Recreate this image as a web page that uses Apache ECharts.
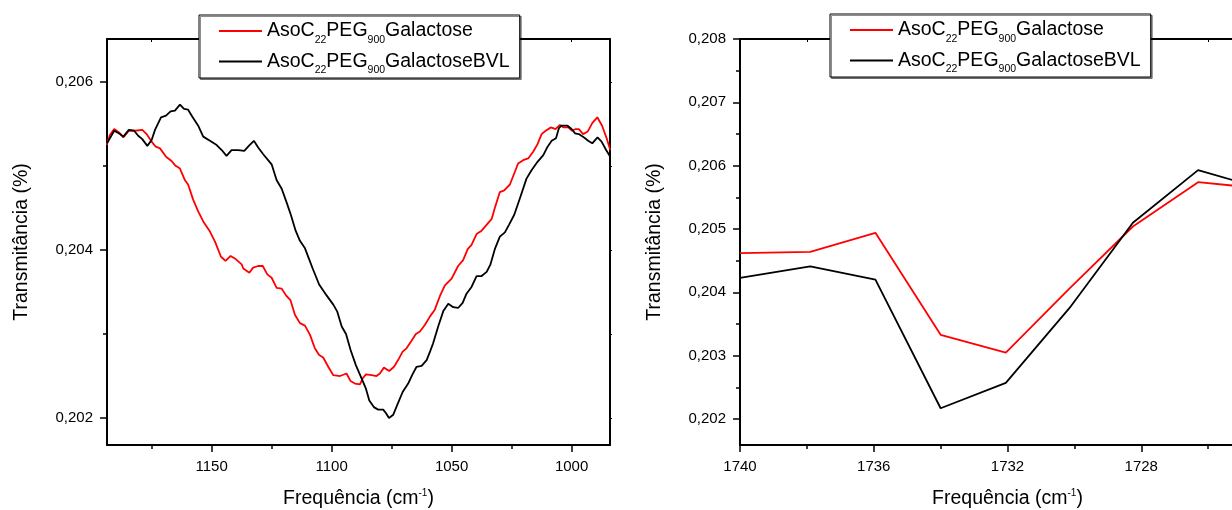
<!DOCTYPE html>
<html>
<head>
<meta charset="utf-8">
<script src="https://cdn.jsdelivr.net/npm/echarts@6/dist/echarts.min.js"></script>
<style>
  html, body { margin: 0; padding: 0; background: #fff; }
  #chart { width: 1232px; height: 510px; }
</style>
</head>
<body>
<div id="chart"></div>
<script>
// Sample names
const nameA = 'AsoC22PEG900Galactose';
const nameB = 'AsoC22PEG900GalactoseBVL';

// Panel 1 (1194–984 cm-1): wavenumber / transmittance pairs
const wnA1 = [1193.75, 1192.4, 1190.6, 1188.6, 1186.8, 1184.5, 1182.0, 1178.9, 1177.1, 1175.0,
  1173.3, 1171.5, 1169.0, 1166.7, 1165.3, 1163.2, 1161.1, 1159.8, 1157.7, 1155.6,
  1153.5, 1150.7, 1148.6, 1146.1, 1144.2, 1142.1, 1140.3, 1137.5, 1136.8, 1134.3,
  1132.7, 1130.6, 1128.7, 1126.8, 1125.0, 1122.9, 1120.8, 1119.0, 1117.1, 1115.3,
  1113.2, 1111.1, 1109.0, 1107.0, 1105.2, 1103.5, 1101.4, 1099.3, 1096.5, 1093.8,
  1092.1, 1090.3, 1088.2, 1087.1, 1085.7, 1083.3, 1081.3, 1079.9, 1078.2, 1076.0,
  1074.0, 1072.3, 1070.4, 1068.8, 1066.7, 1064.9, 1063.2, 1061.1, 1059.0, 1057.0,
  1054.9, 1052.8, 1050.0, 1047.3, 1045.2, 1043.3, 1041.7, 1039.6, 1037.5, 1033.3,
  1032.0, 1029.9, 1028.1, 1025.7, 1022.3, 1020.2, 1018.1, 1016.0, 1014.2, 1012.5,
  1010.8, 1008.6, 1006.7, 1004.9, 1003.5, 1001.4, 999.8, 998.3, 997.0, 995.2,
  993.3, 991.4, 989.3, 987.3, 985.4, 983.9];
const trA1 = [0.20525, 0.20537, 0.20544, 0.20540, 0.20534, 0.20542, 0.20542, 0.20543, 0.20538, 0.20529,
  0.20523, 0.20521, 0.20511, 0.20506, 0.20501, 0.20497, 0.20483, 0.20478, 0.20460, 0.20446,
  0.20434, 0.20422, 0.20410, 0.20392, 0.20387, 0.20393, 0.20390, 0.20383, 0.20378, 0.20373,
  0.20379, 0.20381, 0.20381, 0.20371, 0.20367, 0.20355, 0.20354, 0.20346, 0.20340, 0.20323,
  0.20313, 0.20310, 0.20299, 0.20283, 0.20275, 0.20272, 0.20261, 0.20251, 0.20250, 0.20253,
  0.20244, 0.20241, 0.20240, 0.20247, 0.20252, 0.20251, 0.20250, 0.20253, 0.20260, 0.20256,
  0.20261, 0.20269, 0.20279, 0.20283, 0.20292, 0.20300, 0.20303, 0.20311, 0.20321, 0.20329,
  0.20345, 0.20358, 0.20366, 0.20381, 0.20388, 0.20401, 0.20406, 0.20419, 0.20423, 0.20437,
  0.20450, 0.20469, 0.20471, 0.20478, 0.20503, 0.20507, 0.20509, 0.20517, 0.20526, 0.20538,
  0.20542, 0.20546, 0.20544, 0.20549, 0.20546, 0.20546, 0.20542, 0.20544, 0.20544, 0.20538,
  0.20541, 0.20551, 0.20558, 0.20548, 0.20533, 0.20519];

const wnB1 = [1193.6, 1190.6, 1188.2, 1186.8, 1184.5, 1182.3, 1180.6, 1178.9, 1176.8, 1175.0,
  1173.6, 1171.1, 1169.0, 1167.1, 1165.3, 1163.2, 1161.5, 1159.8, 1158.1, 1155.6,
  1153.5, 1150.7, 1147.9, 1145.8, 1143.8, 1141.7, 1138.9, 1136.4, 1134.5, 1132.4,
  1130.6, 1128.5, 1125.0, 1122.9, 1120.8, 1118.8, 1117.0, 1115.0, 1113.2, 1111.1,
  1109.5, 1107.9, 1105.2, 1102.1, 1099.3, 1097.7, 1095.8, 1094.0, 1092.1, 1089.9,
  1087.8, 1085.7, 1084.3, 1082.4, 1080.6, 1078.5, 1077.4, 1076.1, 1074.3, 1072.3,
  1070.4, 1068.1, 1066.3, 1064.6, 1062.5, 1060.4, 1059.0, 1057.7, 1055.6, 1053.5,
  1051.4, 1049.3, 1047.3, 1045.4, 1043.8, 1041.7, 1039.6, 1037.5, 1035.4, 1033.8,
  1032.0, 1029.9, 1027.8, 1026.1, 1023.9, 1021.5, 1018.8, 1016.7, 1014.2, 1011.8,
  1010.0, 1008.3, 1006.5, 1005.3, 1004.2, 1001.7, 1000.0, 998.6, 997.0, 994.8,
  993.1, 991.4, 989.2, 987.5, 985.8, 983.9];
const trB1 = [0.20527, 0.20542, 0.20538, 0.20535, 0.20543, 0.20542, 0.20536, 0.20532, 0.20524, 0.20531,
  0.20543, 0.20558, 0.20560, 0.20565, 0.20566, 0.20573, 0.20568, 0.20567, 0.20559, 0.20548,
  0.20535, 0.20530, 0.20525, 0.20519, 0.20512, 0.20519, 0.20519, 0.20518, 0.20524, 0.20530,
  0.20522, 0.20514, 0.20502, 0.20483, 0.20473, 0.20457, 0.20442, 0.20423, 0.20411, 0.20402,
  0.20390, 0.20378, 0.20359, 0.20346, 0.20335, 0.20327, 0.20309, 0.20300, 0.20281, 0.20263,
  0.20249, 0.20235, 0.20221, 0.20213, 0.20210, 0.20210, 0.20206, 0.20200, 0.20204, 0.20218,
  0.20231, 0.20241, 0.20252, 0.20261, 0.20262, 0.20269, 0.20279, 0.20289, 0.20309, 0.20327,
  0.20336, 0.20332, 0.20331, 0.20337, 0.20348, 0.20356, 0.20369, 0.20369, 0.20374, 0.20383,
  0.20401, 0.20416, 0.20421, 0.20430, 0.20442, 0.20462, 0.20485, 0.20495, 0.20505, 0.20513,
  0.20523, 0.20530, 0.20533, 0.20545, 0.20548, 0.20548, 0.20544, 0.20539, 0.20538, 0.20534,
  0.20530, 0.20527, 0.20534, 0.20529, 0.20520, 0.20511];

// Panel 2 (1740–1725 cm-1)
const wn2 = [1740.0, 1737.9, 1735.95, 1734.0, 1732.05, 1730.15, 1728.25, 1726.3, 1724.4];
const trA2 = [0.20462, 0.20464, 0.20494, 0.20333, 0.20305, 0.20406, 0.20504, 0.20574, 0.20564];
const trB2 = [0.20423, 0.20441, 0.20420, 0.20217, 0.20257, 0.20375, 0.20510, 0.20593, 0.20564];

// Tick positions
const ticksX1 = [1000, 1050, 1100, 1150];
const minorX1 = [1025, 1075, 1125, 1175];
const ticksY1 = [0.202, 0.204, 0.206];
const minorY1 = [0.203, 0.205];
const ticksX2 = [1728, 1732, 1736, 1740];
const minorX2 = [1726, 1730, 1734, 1738];
const ticksY2 = [0.202, 0.203, 0.204, 0.205, 0.206, 0.207, 0.208];
const minorY2 = [0.2025, 0.2035, 0.2045, 0.2055, 0.2065, 0.2075];

const FONT = 'Liberation Sans, Arial, Helvetica, sans-serif';
const RED = '#ff0000';
const BLACK = '#000000';

const pairs = (xs, ys) => xs.map((x, i) => [x, ys[i]]);
const fmtY = v => v.toFixed(3).replace('.', ',');
const fmtX = v => String(Math.round(v));

const xTitle = '{a|Frequência (cm}{b|-1}{a|)}';
const xTitleRich = {
  a: { fontFamily: FONT, fontSize: 19.5, lineHeight: 22, color: '#000' },
  b: { fontFamily: FONT, fontSize: 10, lineHeight: 10, color: '#000', verticalAlign: 'top' }
};

function panelAxes(g, xr, yr, tx, mx, ty, my) {
  const lineStyle = { color: '#000', width: 2 };
  const xs = [
    {
      gridIndex: g, type: 'value', inverse: true, min: xr[0], max: xr[1], position: 'bottom',
      axisLine: { show: true, onZero: false, lineStyle },
      axisTick: { show: true, inside: false, length: 7, customValues: tx, lineStyle: { color: '#000', width: 1.5 } },
      axisLabel: { show: true, customValues: tx, margin: 14, formatter: fmtX, fontFamily: FONT, fontSize: 15, color: '#000' },
      splitLine: { show: false },
      name: xTitle, nameLocation: 'middle', nameGap: 43,
      nameTextStyle: { rich: xTitleRich }
    },
    {
      gridIndex: g, type: 'value', inverse: true, min: xr[0], max: xr[1], position: 'bottom',
      axisLine: { show: false },
      axisTick: { show: true, inside: false, length: 4, customValues: mx, lineStyle: { color: '#000', width: 1.5 } },
      axisLabel: { show: false }, splitLine: { show: false }
    },
    {
      gridIndex: g, type: 'value', inverse: true, min: xr[0], max: xr[1], position: 'top',
      axisLine: { show: true, onZero: false, lineStyle },
      axisTick: { show: true, inside: true, length: 3, customValues: tx.concat(mx), lineStyle: { color: '#000', width: 1 } },
      axisLabel: { show: false }, splitLine: { show: false }
    }
  ];
  const ys = [
    {
      gridIndex: g, type: 'value', min: yr[0], max: yr[1], position: 'left',
      axisLine: { show: true, onZero: false, lineStyle },
      axisTick: { show: true, inside: false, length: 7, customValues: ty, lineStyle: { color: '#000', width: 1.5 } },
      axisLabel: { show: true, customValues: ty, margin: 14, formatter: fmtY, fontFamily: FONT, fontSize: 15, color: '#000' },
      splitLine: { show: false },
      name: 'Transmitância (%)', nameLocation: 'middle', nameGap: 74,
      nameTextStyle: { fontFamily: FONT, fontSize: 19.5, color: '#000', lineHeight: 22 }
    },
    {
      gridIndex: g, type: 'value', min: yr[0], max: yr[1], position: 'left',
      axisLine: { show: false },
      axisTick: { show: true, inside: false, length: 4, customValues: my, lineStyle: { color: '#000', width: 1.5 } },
      axisLabel: { show: false }, splitLine: { show: false }
    },
    {
      gridIndex: g, type: 'value', min: yr[0], max: yr[1], position: 'right',
      axisLine: { show: true, onZero: false, lineStyle },
      axisTick: { show: true, inside: false, length: 2, customValues: ty.concat(my), lineStyle: { color: '#000', width: 1 } },
      axisLabel: { show: false }, splitLine: { show: false }
    }
  ];
  return { xs, ys };
}

const p1 = panelAxes(0, [984, 1193.6], [0.201679, 0.206512], ticksX1, minorX1, ticksY1, minorY1);
const p2 = panelAxes(1, [1724, 1740], [0.20159, 0.208], ticksX2, minorX2, ticksY2, minorY2);

const legendRich = {
  m: { fontFamily: FONT, fontSize: 19.5, lineHeight: 22, color: '#000' },
  s: { fontFamily: FONT, fontSize: 10.5, lineHeight: 3, color: '#000', verticalAlign: 'top', padding: [14.5, 0, 0, 0] }
};
const legendFmt = n => '{m|AsoC}{s|22}{m|PEG}{s|900}{m|' + n.slice(12) + '}';
function makeLegend(left, top) {
  return {
    data: [nameA, nameB], orient: 'vertical', left, top,
    icon: 'rect', itemWidth: 43, itemHeight: 2, itemGap: 5,
    padding: [5, 10, 2, 20],
    backgroundColor: '#fff', borderColor: '#000', borderWidth: 1,
    shadowColor: 'rgba(0,0,0,0.45)', shadowBlur: 0, shadowOffsetX: 1.5, shadowOffsetY: 1.5,
    selectedMode: false,
    formatter: legendFmt,
    textStyle: { rich: legendRich }
  };
}

const lineSeries = (name, data, xi, yi, color) => ({
  name, type: 'line', data, xAxisIndex: xi, yAxisIndex: yi,
  symbol: 'none', showSymbol: false, smooth: false, clip: true,
  lineStyle: { color, width: 1.8 }, itemStyle: { color },
  emphasis: { disabled: true }
});

const chart = echarts.init(document.getElementById('chart'), null, { renderer: 'canvas' });
chart.setOption({
  animation: false,
  backgroundColor: '#fff',
  textStyle: { fontFamily: FONT },
  grid: [
    { left: 107, top: 39, width: 503, height: 406, containLabel: false, outerBoundsMode: 'none' },
    { left: 740, top: 39, width: 535, height: 406, containLabel: false, outerBoundsMode: 'none' }
  ],
  xAxis: p1.xs.concat(p2.xs),
  yAxis: p1.ys.concat(p2.ys),
  legend: [makeLegend(199, 15), makeLegend(830, 14)],
  series: [
    lineSeries(nameA, pairs(wnA1, trA1), 0, 0, RED),
    lineSeries(nameB, pairs(wnB1, trB1), 0, 0, BLACK),
    lineSeries(nameA, pairs(wn2, trA2), 3, 3, RED),
    lineSeries(nameB, pairs(wn2, trB2), 3, 3, BLACK)
  ]
});
</script>
</body>
</html>
